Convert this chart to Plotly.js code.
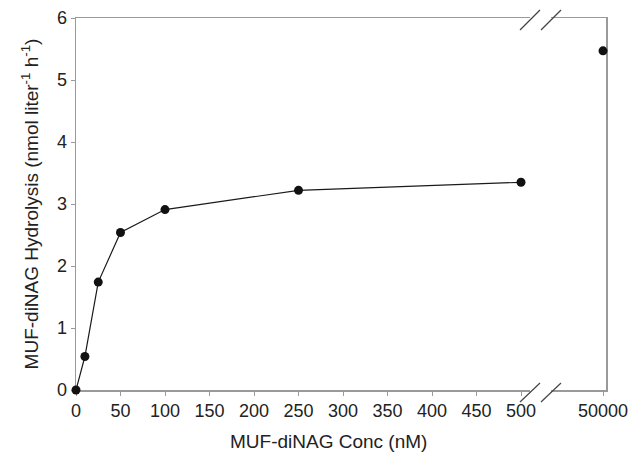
<!DOCTYPE html>
<html>
<head>
<meta charset="utf-8">
<script src="https://cdn.plot.ly/plotly-3.0.1.min.js"></script>
<style>html,body{margin:0;padding:0;background:#fff;}#chart{width:639px;height:460px;}</style>
</head>
<body>
<div id="chart"></div>
<script>
// Data
var concLow = [0, 10, 25, 50, 100, 250, 500];
var rateLow = [0, 0.54, 1.74, 2.54, 2.91, 3.22, 3.35];
var concHigh = [50000];
var rateHigh = [5.47];
var xTicksLow = [0, 50, 100, 150, 200, 250, 300, 350, 400, 450, 500];
var xTicksHigh = [50000];
var yTicks = [0, 1, 2, 3, 4, 5, 6];

var W = 639, H = 460, L = 76, R = 33, T = 18, B = 70;
var pw = W - L - R, ph = H - T - B;
function px(x) { return (x - L) / pw; }
function py(y) { return (H - B - y) / ph; }

var font = 'Liberation Sans, Arial, Helvetica, sans-serif';
var axisCol = '#9a9a9a';

var traces = [
  {x: concLow, y: rateLow, xaxis: 'x', yaxis: 'y', mode: 'lines+markers',
   line: {color: '#1a1a1a', width: 1.2}, marker: {color: '#111', size: 9},
   cliponaxis: false, hoverinfo: 'x+y'},
  {x: concHigh, y: rateHigh, xaxis: 'x2', yaxis: 'y2', mode: 'markers',
   marker: {color: '#111', size: 9}, cliponaxis: false, hoverinfo: 'x+y'}
];

var seg1End = 530, seg2Start = 551;
var tickCommon = {ticks: 'outside', ticklen: 4, tickcolor: axisCol, tickwidth: 1,
  showline: true, linecolor: axisCol, linewidth: 1.5, showgrid: false, zeroline: false,
  layer: 'below traces',
  tickfont: {family: font, size: 18, color: '#222'}};

var layout = {
  width: W, height: H,
  margin: {l: L, r: R, t: T, b: B},
  paper_bgcolor: '#fff', plot_bgcolor: '#fff',
  showlegend: false,
  xaxis: Object.assign({}, tickCommon, {domain: [0, px(seg1End)], range: [0, 500 * (seg1End - L) / 445],
    tickvals: xTicksLow, ticktext: xTicksLow.map(String), mirror: true, anchor: 'y'}),
  xaxis2: Object.assign({}, tickCommon, {domain: [px(seg2Start), 1], range: [50000 - 52 / 55 * 1100, 50000 + 3 / 55 * 1100],
    tickvals: xTicksHigh, ticktext: xTicksHigh.map(String), mirror: true, anchor: 'y2'}),
  yaxis: Object.assign({}, tickCommon, {range: [0, 6], tickvals: yTicks, ticktext: yTicks.map(String), anchor: 'x',
    title: {text: 'MUF-diNAG Hydrolysis (nmol liter<sup>-1</sup> h<sup>-1</sup>)', font: {family: font, size: 19, color: '#222'}, standoff: 13}}),
  yaxis2: {range: [0, 6], anchor: 'x2', side: 'right', showline: true, linecolor: axisCol, linewidth: 1.5,
    showticklabels: false, ticks: '', showgrid: false, zeroline: false, overlaying: 'y', layer: 'below traces'},
  annotations: [
    {text: 'MUF-diNAG Conc (nM)', xref: 'paper', yref: 'paper', x: px(328), y: py(442),
     xanchor: 'center', yanchor: 'middle', showarrow: false, font: {family: font, size: 19, color: '#222'}}
  ],
  shapes: []
};

// axis-break slashes (top and bottom)
[[520, 540], [541, 561]].forEach(function (s) {
  layout.shapes.push({type: 'line', xref: 'paper', yref: 'paper', x0: px(s[0]), y0: py(402), x1: px(s[1]), y1: py(383),
    line: {color: '#444', width: 1.2}});
  layout.shapes.push({type: 'line', xref: 'paper', yref: 'paper', x0: px(s[0]), y0: py(30), x1: px(s[1]), y1: py(10),
    line: {color: '#444', width: 1.2}});
});

Plotly.newPlot('chart', traces, layout, {displayModeBar: false, staticPlot: true});
</script>
</body>
</html>
